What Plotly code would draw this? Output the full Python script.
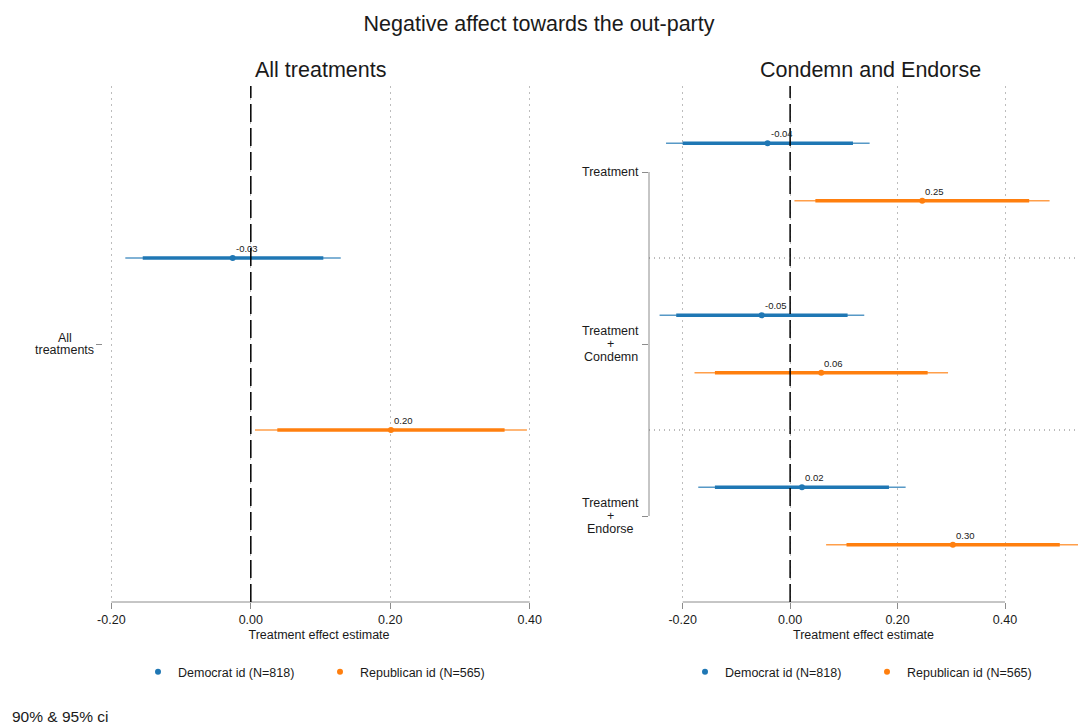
import plotly.graph_objects as go

W, H = 1078, 724
FONT = "Liberation Sans, Arial, Helvetica, sans-serif"
TXT = "#1a1a1a"

# ---------------- data ----------------
series_names = ["Democrat id (N=818)", "Republican id (N=565)"]
series_colors = ["#1f77b4", "#ff7f0e"]

left_cats = ["All<br>treatments"]
left_dem_est = [-0.026]
left_dem_lo90 = [-0.155]
left_dem_hi90 = [0.104]
left_dem_lo95 = [-0.180]
left_dem_hi95 = [0.129]
left_rep_est = [0.201]
left_rep_lo90 = [0.038]
left_rep_hi90 = [0.364]
left_rep_lo95 = [0.006]
left_rep_hi95 = [0.396]

right_cats = ["Treatment", "Treatment<br>+<br>Condemn", "Treatment<br>+<br>Endorse"]
right_dem_est = [-0.042, -0.053, 0.022]
right_dem_lo90 = [-0.200, -0.212, -0.140]
right_dem_hi90 = [0.117, 0.107, 0.184]
right_dem_lo95 = [-0.231, -0.243, -0.171]
right_dem_hi95 = [0.148, 0.138, 0.215]
right_rep_est = [0.246, 0.058, 0.303]
right_rep_lo90 = [0.047, -0.140, 0.105]
right_rep_hi90 = [0.445, 0.256, 0.502]
right_rep_lo95 = [0.008, -0.178, 0.067]
right_rep_hi95 = [0.483, 0.294, 0.539]

x_ticks = [-0.2, 0.0, 0.2, 0.4]

panel_titles = ["All treatments", "Condemn and Endorse"]
main_title = "Negative affect towards the out-party"
x_title = "Treatment effect estimate"
caption = "90% & 95% ci"

# ---------------- layout geometry ----------------
def px_x(p):
    return p / W

def px_y(p):
    return 1 - p / H

y_dom = [px_y(602), px_y(86)]
x1_dom = [px_x(103), px_x(535)]
x2_dom = [px_x(649), 1.0]
x1_range = [-0.212, 0.4076]
x2_range = [-0.2627, 0.5359]

OFFSET = 1 / 6
LINE_H = 12.8

fig = go.Figure()
annotations = []


def add_series(xa, ya, legend, cats, est, lo90, hi90, lo95, hi95, idx):
    col = series_colors[idx]
    off = -OFFSET if idx == 0 else OFFSET
    ys = [i + 1 + off for i in range(len(cats))]
    xs95, ys95, xs90, ys90 = [], [], [], []
    for y, a, b, c, d in zip(ys, lo95, hi95, lo90, hi90):
        xs95 += [a, b, None]
        ys95 += [y, y, None]
        xs90 += [c, d, None]
        ys90 += [y, y, None]
    fig.add_trace(go.Scatter(x=xs95, y=ys95, mode="lines", xaxis=xa, yaxis=ya,
                             line=dict(color=col, width=1.5), opacity=0.75,
                             showlegend=False, hoverinfo="skip"))
    fig.add_trace(go.Scatter(x=xs90, y=ys90, mode="lines", xaxis=xa, yaxis=ya,
                             line=dict(color=col, width=3.5),
                             showlegend=False, hoverinfo="skip"))
    fig.add_trace(go.Scatter(x=est, y=ys, mode="markers", xaxis=xa, yaxis=ya,
                             marker=dict(color=col, size=6),
                             name=series_names[idx], legend=legend,
                             showlegend=True))
    for v, y in zip(est, ys):
        annotations.append(dict(text=f"{v:.2f}", xref=xa, yref=ya, x=v, y=y,
                                xanchor="left", yanchor="bottom", xshift=1, yshift=2,
                                showarrow=False,
                                font=dict(size=9.5, color=TXT, family=FONT)))


add_series("x", "y", "legend", left_cats, left_dem_est, left_dem_lo90, left_dem_hi90,
           left_dem_lo95, left_dem_hi95, 0)
add_series("x", "y", "legend", left_cats, left_rep_est, left_rep_lo90, left_rep_hi90,
           left_rep_lo95, left_rep_hi95, 1)
add_series("x2", "y2", "legend2", right_cats, right_dem_est, right_dem_lo90, right_dem_hi90,
           right_dem_lo95, right_dem_hi95, 0)
add_series("x2", "y2", "legend2", right_cats, right_rep_est, right_rep_lo90, right_rep_hi90,
           right_rep_lo95, right_rep_hi95, 1)

xaxis_common = dict(
    tickvals=x_ticks, ticktext=[f"{v:.2f}" for v in x_ticks],
    ticks="outside", ticklen=6, tickcolor="#8c8c8c", tickwidth=1,
    showline=False, zeroline=False,
    showgrid=True, gridcolor="#bdbdbd", gridwidth=1, griddash="2px,4px",
    tickfont=dict(size=12.5, color=TXT, family=FONT),
    title=dict(text=x_title, font=dict(size=12.5, color=TXT, family=FONT), standoff=4),
    fixedrange=True, automargin=False,
)
yaxis_common = dict(
    ticks="outside", ticklen=6, tickcolor="#8c8c8c", tickwidth=1,
    showline=False, zeroline=False, showgrid=False, showticklabels=False,
    domain=y_dom, fixedrange=True, automargin=False,
)

fig.update_layout(
    width=W, height=H, autosize=False,
    margin=dict(l=0, r=0, t=0, b=0, pad=0, autoexpand=False),
    paper_bgcolor="white", plot_bgcolor="white",
    font=dict(family=FONT, color=TXT),
    xaxis=dict(xaxis_common, domain=x1_dom, range=x1_range, anchor="y"),
    xaxis2=dict(xaxis_common, domain=x2_dom, range=x2_range, anchor="y2"),
    yaxis=dict(yaxis_common, range=[len(left_cats) + 0.5, 0.5],
               tickvals=list(range(1, len(left_cats) + 1)), anchor="x"),
    yaxis2=dict(yaxis_common, range=[len(right_cats) + 0.5, 0.5],
                tickvals=list(range(1, len(right_cats) + 1)), anchor="x2"),
    title=dict(text=main_title, x=0.5, xanchor="center", y=px_y(23), yanchor="middle",
               font=dict(size=21.5, color=TXT, family=FONT)),
    legend=dict(orientation="h", x=320 / W, xanchor="center", y=px_y(672), yanchor="middle",
                font=dict(size=12.5, color=TXT, family=FONT), entrywidth=137,
                bgcolor="rgba(0,0,0,0)"),
    legend2=dict(orientation="h", x=867 / W, xanchor="center", y=px_y(672), yanchor="middle",
                 font=dict(size=12.5, color=TXT, family=FONT), entrywidth=137,
                 bgcolor="rgba(0,0,0,0)"),
    showlegend=True,
)

shapes = []
for xa, ya in (("x", "y"), ("x2", "y2")):
    # x-axis line between first and last tick
    shapes.append(dict(type="line", xref=xa, yref=f"{ya} domain",
                       x0=x_ticks[0], x1=x_ticks[-1], y0=0, y1=0,
                       line=dict(color="#8c8c8c", width=1), layer="above"))
    # dashed reference line at zero
    shapes.append(dict(type="line", xref=xa, yref=f"{ya} domain",
                       x0=0, x1=0, y0=0, y1=1,
                       line=dict(color="black", width=1.5, dash="18px,6px"), layer="above"))

# right y-axis line spanning first to last category
shapes.append(dict(type="line", xref="x2 domain", yref="y2", x0=0, x1=0,
                   y0=1, y1=len(right_cats), line=dict(color="#8c8c8c", width=1)))
# separators between categories on right panel
for k in range(1, len(right_cats)):
    shapes.append(dict(type="line", xref="x2 domain", yref="y2", x0=0, x1=1,
                       y0=k + 0.5, y1=k + 0.5,
                       line=dict(color="#777777", width=1, dash="1px,4px")))
fig.update_layout(shapes=shapes)

# category labels: one centred line per text row, tighter than plotly's default line height
for xa, ya, cats in (("x", "y", left_cats), ("x2", "y2", right_cats)):
    for i, c in enumerate(cats):
        lines = c.split("<br>")
        n = len(lines)
        for j, line in enumerate(lines):
            annotations.append(dict(text=line, xref=f"{xa} domain", yref=ya, x=0, y=i + 1,
                                    xanchor="center", yanchor="middle",
                                    xshift=-38.5, yshift=((n - 1) / 2 - j) * LINE_H,
                                    showarrow=False,
                                    font=dict(size=12.5, color=TXT, family=FONT)))
annotations.append(dict(text=panel_titles[0], xref="paper", yref="paper", x=320 / W, y=px_y(70),
                        xanchor="center", yanchor="middle", showarrow=False,
                        font=dict(size=21.5, color=TXT, family=FONT)))
annotations.append(dict(text=panel_titles[1], xref="paper", yref="paper", x=870 / W, y=px_y(70),
                        xanchor="center", yanchor="middle", showarrow=False,
                        font=dict(size=21.5, color=TXT, family=FONT)))
annotations.append(dict(text=caption, xref="paper", yref="paper", x=10 / W, y=px_y(716),
                        xanchor="left", yanchor="middle", showarrow=False,
                        font=dict(size=15.5, color=TXT, family=FONT)))
fig.update_layout(annotations=annotations)

fig.write_html("out.html")
